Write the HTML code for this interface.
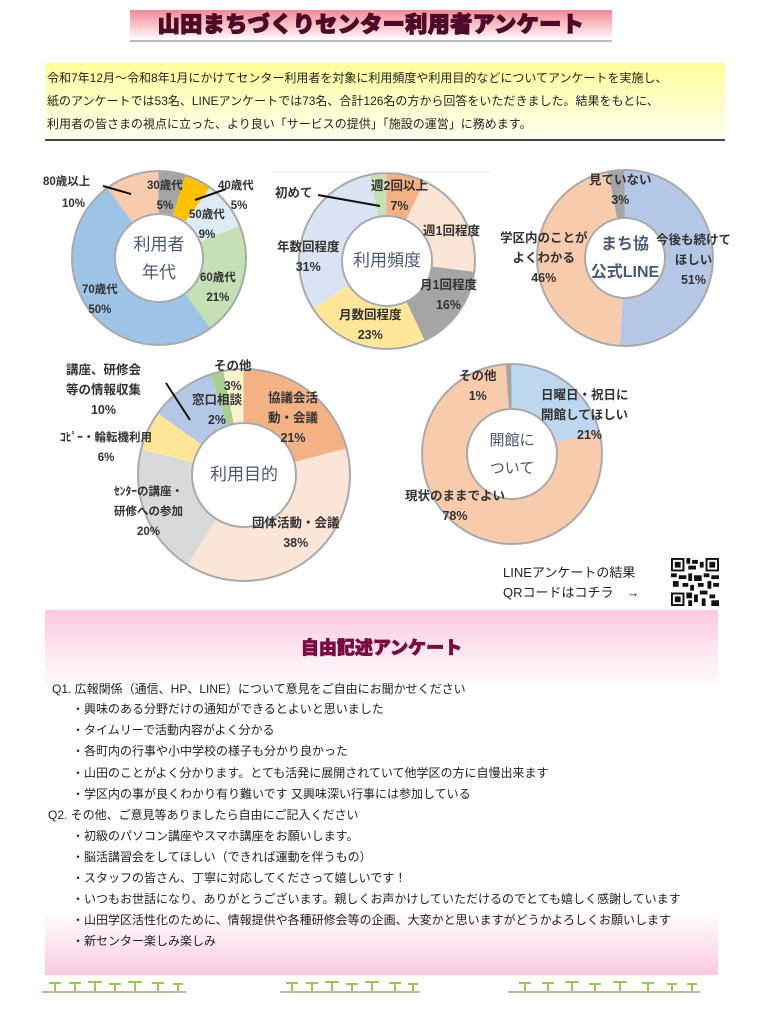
<!DOCTYPE html>
<html><head><meta charset="utf-8">
<style>
body{margin:0;width:762px;height:1027px;position:relative;background:#fff;font-family:"Liberation Sans","Noto Sans CJK JP",sans-serif;overflow:hidden;color:#222}
.a{position:absolute;white-space:nowrap}
.l{position:absolute;font-size:11.5px;font-weight:bold;color:#333;text-align:center;line-height:20px;white-space:nowrap}
.c{position:absolute;font-size:17px;color:#4a5a72;text-align:center;line-height:28px;white-space:nowrap}
.q{position:absolute;font-size:12px;color:#222;white-space:nowrap}
</style></head><body>
<div class="a" style="left:130px;top:10px;width:482px;height:30px;background:linear-gradient(#f08a96,#fde5e8 80%,#fff);border-bottom:2px solid #bbb"></div>
<div class="a" style="left:130px;top:10px;width:482px;text-align:center;font-size:22px;font-weight:900;color:#4e0a26;line-height:30px;letter-spacing:0.5px;-webkit-text-stroke:1.2px #4e0a26">山田まちづくりセンター利用者アンケート</div>

<div class="a" style="left:45px;top:63px;width:680px;height:76px;background:linear-gradient(#ffff9a,#fffff0);border-bottom:2px solid #444"></div>
<div class="a" style="left:47px;top:67px;font-size:12px;line-height:23px;color:#222">令和7年12月～令和8年1月にかけてセンター利用者を対象に利用頻度や利用目的などについてアンケートを実施し、<br>紙のアンケートでは53名、LINEアンケートでは73名、合計126名の方から回答をいただきました。結果をもとに、<br>利用者の皆さまの視点に立った、より良い「サービスの提供」「施設の運営」に務めます。</div>

<svg class="a" style="left:0;top:0" width="762" height="620">
<g fill="none">
<g transform="rotate(-90 159 258)" stroke-width="43">
<circle cx="159" cy="258" r="65.5" pathLength="100" stroke="#a5a5a5" stroke-dasharray="5 95" stroke-dashoffset="0"/>
<circle cx="159" cy="258" r="65.5" pathLength="100" stroke="#ffc000" stroke-dasharray="5 95" stroke-dashoffset="-5"/>
<circle cx="159" cy="258" r="65.5" pathLength="100" stroke="#deebf7" stroke-dasharray="9 91" stroke-dashoffset="-10"/>
<circle cx="159" cy="258" r="65.5" pathLength="100" stroke="#c5e0b4" stroke-dasharray="21 79" stroke-dashoffset="-19"/>
<circle cx="159" cy="258" r="65.5" pathLength="100" stroke="#9dc3e6" stroke-dasharray="50 50" stroke-dashoffset="-40"/>
<circle cx="159" cy="258" r="65.5" pathLength="100" stroke="#f8cbad" stroke-dasharray="10 90" stroke-dashoffset="-90"/>
</g>
<circle cx="159" cy="258" r="87" stroke="#aaa" stroke-width="2"/>
<circle cx="159" cy="258" r="44" stroke="#aaa" stroke-width="2" fill="#fff"/>
<g transform="rotate(-90 387 261)" stroke-width="43">
<circle cx="387" cy="261" r="66.5" pathLength="100" stroke="#f4b183" stroke-dasharray="7 93" stroke-dashoffset="0"/>
<circle cx="387" cy="261" r="66.5" pathLength="100" stroke="#fbe5d6" stroke-dasharray="20 80" stroke-dashoffset="-7"/>
<circle cx="387" cy="261" r="66.5" pathLength="100" stroke="#a5a5a5" stroke-dasharray="16 84" stroke-dashoffset="-27"/>
<circle cx="387" cy="261" r="66.5" pathLength="100" stroke="#ffe699" stroke-dasharray="23 77" stroke-dashoffset="-43"/>
<circle cx="387" cy="261" r="66.5" pathLength="100" stroke="#dae3f3" stroke-dasharray="31 69" stroke-dashoffset="-66"/>
<circle cx="387" cy="261" r="66.5" pathLength="100" stroke="#c5e0b4" stroke-dasharray="3 97" stroke-dashoffset="-97"/>
</g>
<circle cx="387" cy="261" r="88" stroke="#aaa" stroke-width="2"/>
<circle cx="387" cy="261" r="45" stroke="#aaa" stroke-width="2" fill="#fff"/>
<g transform="rotate(-90 625 258)" stroke-width="48">
<circle cx="625" cy="258" r="64" pathLength="100" stroke="#b4c7e7" stroke-dasharray="51 49" stroke-dashoffset="0"/>
<circle cx="625" cy="258" r="64" pathLength="100" stroke="#f8cbad" stroke-dasharray="46 54" stroke-dashoffset="-51"/>
<circle cx="625" cy="258" r="64" pathLength="100" stroke="#a5a5a5" stroke-dasharray="3 97" stroke-dashoffset="-97"/>
</g>
<circle cx="625" cy="258" r="88" stroke="#aaa" stroke-width="2"/>
<circle cx="625" cy="258" r="40" stroke="#aaa" stroke-width="2" fill="#fff"/>
<g transform="rotate(-90 244 475)" stroke-width="54">
<circle cx="244" cy="475" r="79" pathLength="100" stroke="#f4b183" stroke-dasharray="21 79" stroke-dashoffset="0"/>
<circle cx="244" cy="475" r="79" pathLength="100" stroke="#fbe5d6" stroke-dasharray="38 62" stroke-dashoffset="-21"/>
<circle cx="244" cy="475" r="79" pathLength="100" stroke="#d9d9d9" stroke-dasharray="20 80" stroke-dashoffset="-59"/>
<circle cx="244" cy="475" r="79" pathLength="100" stroke="#ffe699" stroke-dasharray="6 94" stroke-dashoffset="-79"/>
<circle cx="244" cy="475" r="79" pathLength="100" stroke="#b4c7e7" stroke-dasharray="10 90" stroke-dashoffset="-85"/>
<circle cx="244" cy="475" r="79" pathLength="100" stroke="#a9d18e" stroke-dasharray="2 98" stroke-dashoffset="-95"/>
<circle cx="244" cy="475" r="79" pathLength="100" stroke="#fff2cc" stroke-dasharray="3 97" stroke-dashoffset="-97"/>
</g>
<circle cx="244" cy="475" r="106" stroke="#aaa" stroke-width="2"/>
<circle cx="244" cy="475" r="52" stroke="#aaa" stroke-width="2" fill="#fff"/>
<g transform="rotate(-90 512 454)" stroke-width="45">
<circle cx="512" cy="454" r="67.5" pathLength="100" stroke="#bdd7ee" stroke-dasharray="21 79" stroke-dashoffset="0"/>
<circle cx="512" cy="454" r="67.5" pathLength="100" stroke="#f8cbad" stroke-dasharray="78 22" stroke-dashoffset="-21"/>
<circle cx="512" cy="454" r="67.5" pathLength="100" stroke="#a5a5a5" stroke-dasharray="1 99" stroke-dashoffset="-99"/>
</g>
<circle cx="512" cy="454" r="90" stroke="#aaa" stroke-width="2"/>
<circle cx="512" cy="454" r="45" stroke="#aaa" stroke-width="2" fill="#fff"/>
<g stroke="#111" stroke-width="2">
<line x1="103" y1="186" x2="131" y2="194"/>
<line x1="226" y1="189" x2="195" y2="200"/>
<line x1="318" y1="195" x2="380" y2="206"/>
<line x1="166" y1="383" x2="190" y2="420"/>
</g>
<line x1="272" y1="172" x2="490" y2="172" stroke="#eee"/>
</g>
</svg>

<div class="c" style="left:109px;top:231px;width:100px">利用者<br>年代</div>
<div class="c" style="left:337px;top:247px;width:100px">利用頻度</div>
<div class="c" style="left:575px;top:231px;width:100px;font-weight:bold;font-size:16px">まち協<br>公式LINE</div>
<div class="c" style="left:194px;top:461px;width:100px">利用目的</div>
<div class="c" style="left:462px;top:427px;width:100px;font-size:15px">開館に<br>ついて</div>

<div class="l" style="left:43px;top:172px">80歳以上</div><div class="l" style="left:62px;top:194px">10%</div>
<div class="l" style="left:147px;top:176px">30歳代<br>5%</div>
<div class="l" style="left:218px;top:176px">40歳代<br>&nbsp;&nbsp;5%</div>
<div class="l" style="left:189px;top:205px">50歳代<br>9%</div>
<div class="l" style="left:200px;top:268px">60歳代<br>21%</div>
<div class="l" style="left:82px;top:280px">70歳代<br>50%</div>

<div class="l" style="left:275px;top:183px;font-size:12.5px">初めて</div>
<div class="l" style="left:371px;top:176px;font-size:12.5px">週2回以上<br>7%</div>
<div class="l" style="left:423px;top:221px;font-size:12.5px">週1回程度</div>
<div class="l" style="left:277px;top:237px;font-size:12.5px">年数回程度<br>31%</div>
<div class="l" style="left:420px;top:275px;font-size:12.5px">月1回程度<br>16%</div>
<div class="l" style="left:339px;top:305px;font-size:12.5px">月数回程度<br>23%</div>

<div class="l" style="left:589px;top:170px;font-size:12.5px">見ていない<br>3%</div>
<div class="l" style="left:500px;top:228px;font-size:12.5px">学区内のことが<br>よくわかる<br>46%</div>
<div class="l" style="left:656px;top:230px;font-size:12.5px">今後も続けて<br>ほしい<br>51%</div>

<div class="l" style="left:66px;top:360px;font-size:12.5px">講座、研修会<br>等の情報収集<br>10%</div>
<div class="l" style="left:60px;top:428px;font-size:11.5px">ｺﾋﾟｰ・輪転機利用<br>6%</div>
<div class="l" style="left:114px;top:482px;font-size:11.5px">ｾﾝﾀｰの講座・<br>研修への参加<br>20%</div>
<div class="l" style="left:214px;top:356px;font-size:12.5px">その他<br>3%</div>
<div class="l" style="left:192px;top:390px;font-size:12.5px">窓口相談<br>2%</div>
<div class="l" style="left:268px;top:388px;font-size:12.5px">協議会活<br>動・会議<br>21%</div>
<div class="l" style="left:252px;top:513px;font-size:12.5px">団体活動・会議<br>38%</div>

<div class="l" style="left:459px;top:366px;font-size:12.5px">その他<br>1%</div>
<div class="l" style="left:541px;top:385px;font-size:12.5px;text-align:left">日曜日・祝日に<br>開館してほしい<br><span style="margin-left:36px">21%</span></div>
<div class="l" style="left:405px;top:486px;font-size:12.5px">現状のままでよい<br>78%</div>

<div class="a" style="left:503px;top:563px;font-size:13px;line-height:20px;color:#222">LINEアンケートの結果<br>QRコードはコチラ　→</div>
<svg class="a" style="left:670px;top:558px" width="50" height="48" viewBox="0 0 25 25">
<rect width="25" height="25" fill="#fff"/>
<g fill="#111">
<rect x="0" y="0" width="7" height="7"/><rect x="18" y="0" width="7" height="7"/><rect x="0" y="18" width="7" height="7"/>
</g>
<g fill="#fff"><rect x="1" y="1" width="5" height="5"/><rect x="19" y="1" width="5" height="5"/><rect x="1" y="19" width="5" height="5"/></g>
<g fill="#111"><rect x="2" y="2" width="3" height="3"/><rect x="20" y="2" width="3" height="3"/><rect x="2" y="20" width="3" height="3"/>
<rect x="8" y="0" width="2" height="3"/><rect x="11" y="1" width="3" height="2"/><rect x="15" y="2" width="2" height="3"/><rect x="9" y="4" width="4" height="2"/>
<rect x="0" y="8" width="3" height="2"/><rect x="4" y="9" width="4" height="2"/><rect x="9" y="8" width="2" height="4"/><rect x="12" y="9" width="4" height="3"/><rect x="17" y="8" width="3" height="2"/><rect x="21" y="9" width="4" height="2"/>
<rect x="1" y="12" width="3" height="3"/><rect x="6" y="13" width="3" height="2"/><rect x="10" y="14" width="2" height="3"/><rect x="14" y="13" width="3" height="2"/><rect x="19" y="12" width="2" height="4"/><rect x="22" y="13" width="3" height="2"/>
<rect x="8" y="18" width="3" height="3"/><rect x="12" y="19" width="2" height="4"/><rect x="15" y="17" width="4" height="2"/><rect x="20" y="19" width="3" height="2"/><rect x="16" y="21" width="2" height="4"/><rect x="21" y="22" width="4" height="3"/><rect x="9" y="22" width="2" height="3"/>
</g></svg>

<div class="a" style="left:45px;top:610px;width:673px;height:365px;background:linear-gradient(#fbc8e0 0%,#fde8f2 12%,#fff 22%,#fff 82%,#fde3f0 92%,#fbc8e0 100%)"></div>
<div class="a" style="left:45px;top:636px;width:673px;text-align:center;font-size:18px;font-weight:900;color:#7a0c42;line-height:24px;-webkit-text-stroke:0.8px #7a0c42">自由記述アンケート</div>

<div class="q" style="left:52px;top:680px">Q1. 広報関係（通信、HP、LINE）について意見をご自由にお聞かせください</div>
<div class="q" style="left:72px;top:700px">・興味のある分野だけの通知ができるとよいと思いました</div>
<div class="q" style="left:72px;top:721px">・タイムリーで活動内容がよく分かる</div>
<div class="q" style="left:72px;top:742px">・各町内の行事や小中学校の様子も分かり良かった</div>
<div class="q" style="left:72px;top:764px">・山田のことがよく分かります。とても活発に展開されていて他学区の方に自慢出来ます</div>
<div class="q" style="left:72px;top:785px">・学区内の事が良くわかり有り難いです 又興味深い行事には参加している</div>
<div class="q" style="left:48px;top:806px">Q2. その他、ご意見等ありましたら自由にご記入ください</div>
<div class="q" style="left:72px;top:827px">・初級のパソコン講座やスマホ講座をお願いします。</div>
<div class="q" style="left:72px;top:848px">・脳活講習会をしてほしい（できれば運動を伴うもの）</div>
<div class="q" style="left:72px;top:869px">・スタッフの皆さん、丁寧に対応してくださって嬉しいです！</div>
<div class="q" style="left:72px;top:890px">・いつもお世話になり、ありがとうございます。親しくお声かけしていただけるのでとても嬉しく感謝しています</div>
<div class="q" style="left:72px;top:911px">・山田学区活性化のために、情報提供や各種研修会等の企画、大変かと思いますがどうかよろしくお願いします</div>
<div class="q" style="left:72px;top:932px">・新センター楽しみ楽しみ</div>

<svg class="a" style="left:0;top:975px" width="762" height="25">
<g stroke="#b89a80" stroke-width="1.5"><line x1="42" y1="17" x2="186" y2="17"/><line x1="280" y1="17" x2="420" y2="17"/><line x1="508" y1="17" x2="700" y2="17"/></g>
<g stroke="#9cc45a" stroke-width="2" fill="none">
<path d="M55 16v-8m-6 0h12M75 16v-8m-6 0h12M95 16v-9m-7 0h14M115 16v-7m-6 0h12M135 16v-9m-7 0h14M158 16v-8m-6 0h12M178 16v-7m-5 0h10"/>
<path d="M292 16v-8m-6 0h12M312 16v-8m-6 0h12M332 16v-9m-7 0h14M352 16v-7m-6 0h12M372 16v-9m-7 0h14M395 16v-8m-6 0h12M413 16v-7m-5 0h10"/>
<path d="M525 16v-8m-6 0h12M548 16v-8m-6 0h12M572 16v-9m-7 0h14M595 16v-7m-6 0h12M620 16v-9m-7 0h14M648 16v-8m-6 0h12M672 16v-7m-5 0h10M692 16v-7m-5 0h10"/>
</g></svg>
</body></html>
